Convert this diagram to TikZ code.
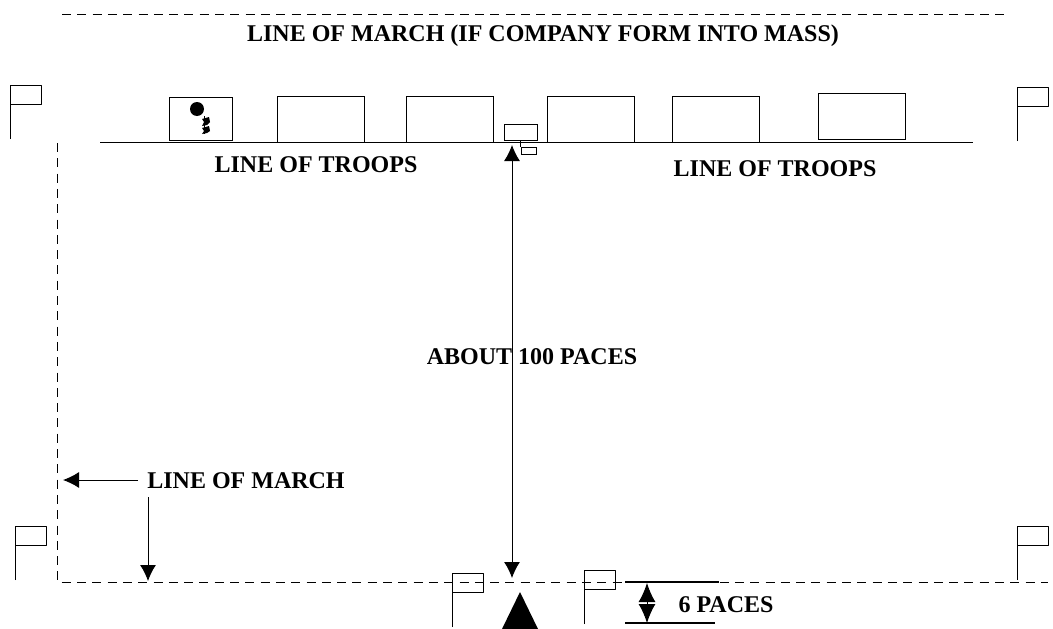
\documentclass[tikz,border=0pt]{standalone}
\usepackage{fontspec}
\setmainfont{Liberation Serif}
\usetikzlibrary{arrows.meta}

\tikzset{
	label/.style={font=\fontsize{24}{28}\selectfont\bfseries, inner sep=0pt, anchor=base},
	thinline/.style={line width=1pt},
	march/.style={line width=0.9pt, dash pattern=on 9pt off 6.3pt},
	pointer/.style={line width=1pt, -{Latex[length=16pt, width=16pt]}},
	pointers/.style={line width=1pt, {Latex[length=16pt, width=16pt]}-{Latex[length=16pt, width=16pt]}},
	shortpointers/.style={line width=1pt, {Latex[length=19pt, width=17pt]}-{Latex[length=19pt, width=17pt]}}
}

% flag with the foot of its pole at #1
\newcommand{\flagat}[2]{
	\draw[thinline, line join=round] (#1,#2) -- ++(0,-54) (#1,#2-54) rectangle ++(31,19);
}

\begin{document}
\begin{tikzpicture}[x=1pt, y=-1pt, line cap=butt]
	\useasboundingbox (0,0) rectangle (1053,629);
	
	% Lines of march
	\draw[march] (62,14) -- (1005,14);
	\draw[march] (57,143) -- (57,582) -- (1048,582);
	\node[label] (masslabel) at (543,41) {LINE OF MARCH (IF COMPANY FORM INTO MASS)};
	
	% Flags
	\flagat{10}{139}
	\flagat{1017}{141}
	\flagat{15}{580}
	\flagat{1017}{580}
	\flagat{452}{627}
	\flagat{584}{624}
	
	% Troops
	\draw[thinline] (100,142) -- (973,142);
	\draw[thinline] (169,97) rectangle (232,140);
	\draw[thinline] (277,96) rectangle (364,142);
	\draw[thinline] (406,96) rectangle (493,142);
	\draw[thinline] (547,96) rectangle (634,142);
	\draw[thinline] (672,96) rectangle (759,142);
	\draw[thinline] (818,93) rectangle (905,139);
	\node[label] (troopsleft) at (316,172) {LINE OF TROOPS};
	\node[label] (troopsright) at (775,176) {LINE OF TROOPS};
	
	% Figure in the first box
	\fill (197,109) circle (7);
	\draw[thinline] (204,116) -- (204,134);
	\fill (202,119) -- (209,117) -- (210,122) -- (207,125) -- (202,126) -- (204,122) -- cycle;
	\fill (202,128) -- (209,126) -- (210,131) -- (207,133) -- (202,134) -- (204,131) -- cycle;
	
	% Commander
	\draw[thinline] (504,124) rectangle (537,140);
	\draw[thinline] (521,147) rectangle (536,154);
	\draw[thinline] (520,140) -- (520,147);
	
	% Distance to the marker
	\coordinate (front) at (512,145);
	\coordinate (rear) at (512,578);
	\draw[pointers] (front) -- (rear);
	\node[label] (distance) at (532,364) {ABOUT 100 PACES};
	\fill (520,592) -- (538,629) -- (502,629) -- cycle;
	
	% March pointers
	\node[label] (marchlabel) at (246,488) {LINE OF MARCH};
	\coordinate (marchwest) at (63,480);
	\coordinate (marchsouth) at (148,581);
	\draw[pointer] (138,480) -- (marchwest);
	\draw[pointer] (148,497) -- (marchsouth);
	
	% Six paces
	\draw[line width=2pt] (625,582) -- (719,582);
	\draw[line width=2pt] (625,623) -- (715,623);
	\coordinate (sixtop) at (647,583);
	\coordinate (sixbottom) at (647,623);
	\draw[shortpointers] (sixtop) -- (sixbottom);
	\node[label] (sixlabel) at (726,612) {6 PACES};
\end{tikzpicture}
\end{document}
